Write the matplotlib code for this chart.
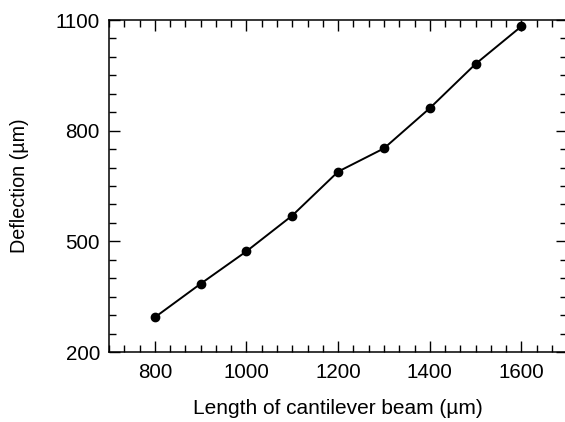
import matplotlib
matplotlib.use("Agg")
import matplotlib.pyplot as plt
from matplotlib.ticker import MultipleLocator

plt.rcParams['font.family'] = ['Liberation Sans', 'DejaVu Sans']

length_um = [800, 900, 1000, 1100, 1200, 1300, 1400, 1500, 1600]
deflection_um = [294, 385, 473, 570, 689, 752, 861, 981, 1083]

x_ticks = [800, 1000, 1200, 1400, 1600]
y_ticks = [200, 500, 800, 1100]

fig = plt.figure(figsize=(5.65, 4.22), dpi=100)
ax = fig.add_axes([109/565, 1 - 352/422, (567.3 - 109)/565, (352 - 20)/422])

ax.plot(length_um, deflection_um, color='black', linewidth=1.4,
        marker='o', markersize=6, markerfacecolor='black', markeredgecolor='black')

ax.set_xlim(700, 1700)
ax.set_ylim(200, 1100)
ax.set_xticks(x_ticks)
ax.set_yticks(y_ticks)
ax.xaxis.set_minor_locator(MultipleLocator(200/6))
ax.yaxis.set_minor_locator(MultipleLocator(50))

ax.tick_params(which='both', direction='in', top=True, right=True, width=1.0)
ax.tick_params(which='major', length=8, labelsize=14.8)
ax.tick_params(axis='y', which='major', pad=6.5)
ax.tick_params(axis='x', which='major', pad=8)
ax.tick_params(which='minor', length=5)

for s in ax.spines.values():
    s.set_linewidth(1.1)

ax.set_xlabel('Length of cantilever beam (µm)', fontsize=15, labelpad=12)
ax.set_ylabel('Deflection (µm)', fontsize=14.2, labelpad=19.5)

fig.savefig('out.png', dpi=100)
